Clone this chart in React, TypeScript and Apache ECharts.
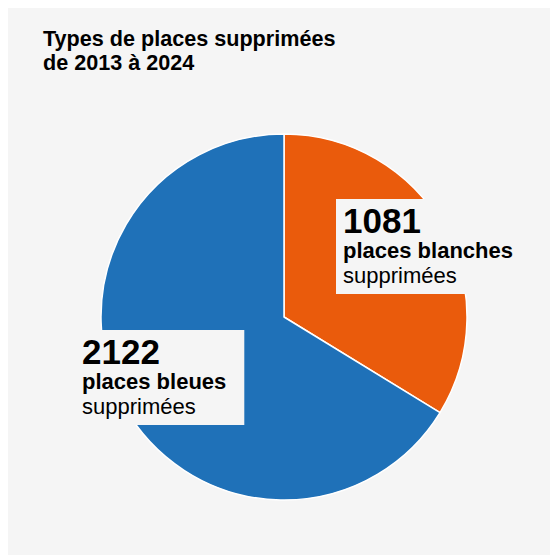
import React, { useEffect, useRef } from "react";
import * as echarts from "echarts";

const titleLines = ["Types de places supprimées", "de 2013 à 2024"];
const categories = ["places blanches", "places bleues"];
const values = [1081, 2122];
const suffix = "supprimées";
const colors = ["#EA5B0C", "#1F71B8"];

const FONT = "'Liberation Sans', Arial, Helvetica, sans-serif";

export default function App() {
  const ref = useRef<HTMLDivElement>(null);
  useEffect(() => {
    if (!ref.current) return;
    const chart = echarts.init(ref.current, undefined, { renderer: "svg" });
    chart.setOption({
      animation: false,
      backgroundColor: "#f5f5f5",
      title: {
        text: titleLines.join("\n"),
        left: 30,
        top: 17,
        textStyle: {
          fontFamily: FONT,
          fontSize: 21.6,
          fontWeight: "bold",
          color: "#000",
          lineHeight: 24,
        },
      },
      series: [
        {
          type: "pie",
          center: [276, 313],
          radius: [0, 183],
          startAngle: 90,
          clockwise: true,
          silent: true,
          itemStyle: { borderColor: "#ffffff", borderWidth: 1.5 },
          data: categories.map((c, i) => ({
            name: c,
            value: values[i],
            itemStyle: { color: colors[i] },
          })),
          label: {
            show: true,
            position: "inside",
            align: "left",
            formatter: (p: any) => `{n|${p.value}}\n{b|${p.name}}\n{r|${suffix}}`,
            backgroundColor: "#f5f5f5",
            padding: [3, 18, 6, 7],
            fontFamily: FONT,
            rich: {
              n: { fontFamily: FONT, fontSize: 35, fontWeight: "bold", color: "#000", lineHeight: 36, align: "left" },
              b: { fontFamily: FONT, fontSize: 22, fontWeight: "bold", color: "#000", lineHeight: 25, align: "left" },
              r: { fontFamily: FONT, fontSize: 22, color: "#000", lineHeight: 25, align: "left" },
            },
          },
          labelLine: { show: false },
          labelLayout: (params: any) =>
            params.dataIndex === 0
              ? { x: 328, y: 195, align: "left", verticalAlign: "top" }
              : { x: 67, y: 326, align: "left", verticalAlign: "top" },
        },
      ],
    });
    return () => chart.dispose();
  }, []);
  return (
    <div
      ref={ref}
      style={{ position: "relative", top: -4, width: 550, height: 551 }}
    />
  );
}
